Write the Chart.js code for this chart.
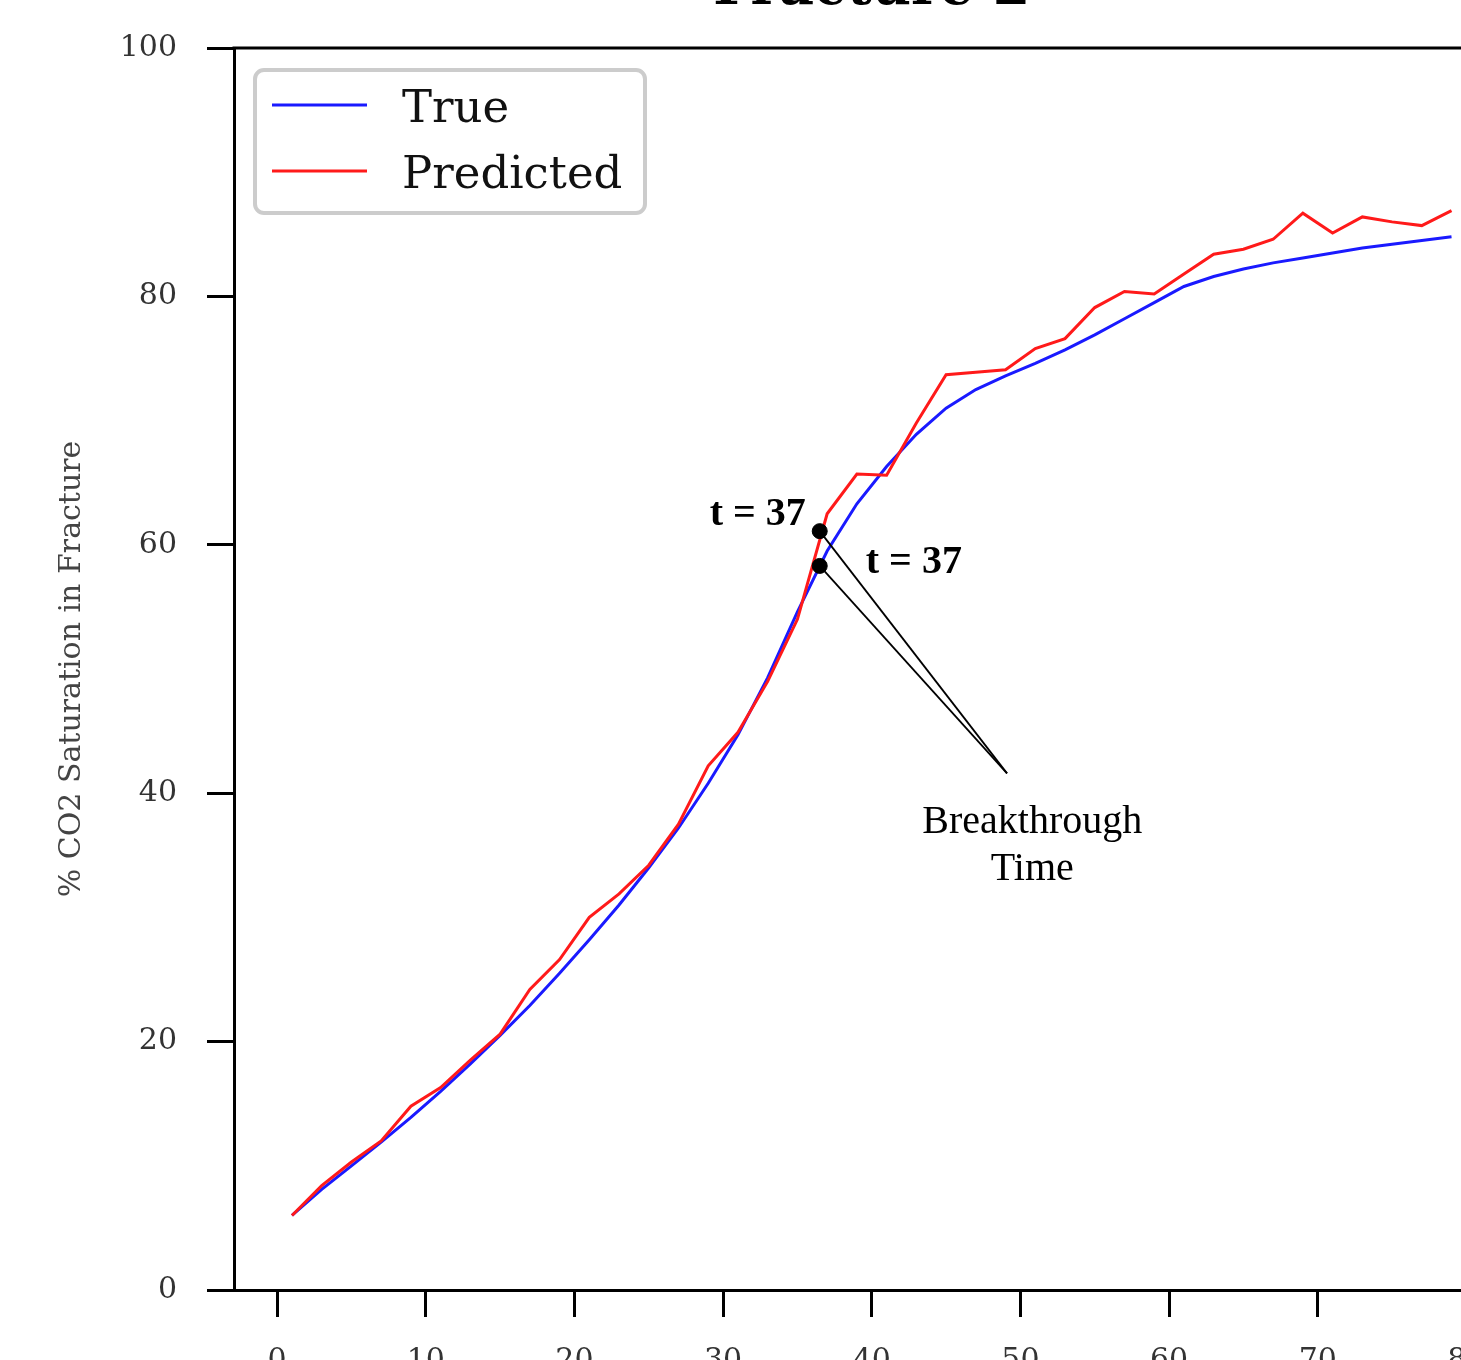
<!DOCTYPE html>
<html>
<head>
<meta charset="utf-8">
<script src="https://cdn.jsdelivr.net/npm/chart.js@4.4.0/dist/chart.umd.min.js"></script>
<style>
  html, body { margin: 0; padding: 0; background: #fff; overflow: hidden; width: 1461px; height: 1360px; }
  #wrap { position: absolute; left: 0; top: -60px; width: 1518px; height: 1420px; }
</style>
</head>
<body>
<div id="wrap"><canvas id="myChart"></canvas></div>
<script>
// data
const chartTitle = 'Fracture 2';
const yTitle = '% CO2 Saturation in Fracture';
const timeSteps = [1, 3, 5, 7, 9, 11, 13, 15, 17, 19, 21, 23, 25, 27, 29, 31, 33, 35, 37, 39,
                   41, 43, 45, 47, 49, 51, 53, 55, 57, 59, 61, 63, 65, 67, 69, 71, 73, 75, 77, 79];
const trueValues = [6.0, 8.1, 10.0, 11.9, 13.9, 16.0, 18.2, 20.5, 22.9, 25.5, 28.2, 31.0, 34.0, 37.2, 40.8, 44.7, 49.3, 54.6, 59.5, 63.3,
                    66.3, 68.9, 71.0, 72.5, 73.6, 74.6, 75.7, 76.9, 78.2, 79.5, 80.8, 81.6, 82.2, 82.7, 83.1, 83.5, 83.9, 84.2, 84.5, 84.8];
const predictedValues = [6.0, 8.4, 10.3, 12.0, 14.8, 16.3, 18.5, 20.6, 24.2, 26.6, 30.0, 31.9, 34.2, 37.5, 42.2, 44.9, 49.0, 54.0, 62.5, 65.7,
                         65.6, 69.8, 73.7, 73.9, 74.1, 75.8, 76.6, 79.1, 80.4, 80.2, 81.8, 83.4, 83.8, 84.6, 86.7, 85.1, 86.4, 86.0, 85.7, 86.9];
const yTicks = [0, 20, 40, 60, 80, 100];
const xTicks = [0, 10, 20, 30, 40, 50, 60, 70, 80];

// breakthrough markers (predicted, true)
const breakthroughX = [36.5, 36.5];
const breakthroughY = [61.1, 58.3];
const breakthroughText = ['t = 37', 't = 37'];
const breakthroughTextX = [29.1, 39.6];
const breakthroughTextY = [61.6, 57.7];
const arrowFrom = [49.1, 41.6];
const noteLines = ['Breakthrough', 'Time'];
const noteX = 50.8;
const noteY = [36.8, 33.0];

const legendLabels = ['True', 'Predicted'];

function toPoints(xs, ys){
    return xs.map((x, i) => ({x: x, y: ys[i]}));
}

const serif = '"DejaVu Serif", serif';
const times = '"Liberation Serif", "Times New Roman", serif';

const overlayPlugin = {
    id: 'overlay',
    afterDraw(chart){
        const ctx = chart.ctx;
        const area = chart.chartArea;
        const xs = chart.scales.x, ys = chart.scales.y;
        ctx.save();

        // top spine
        ctx.strokeStyle = '#000';
        ctx.lineWidth = 3;
        ctx.beginPath();
        ctx.moveTo(area.left - 1.5, area.top);
        ctx.lineTo(area.right, area.top);
        ctx.stroke();

        // title
        ctx.fillStyle = '#000';
        ctx.font = 'bold 54px ' + serif;
        ctx.textAlign = 'center';
        ctx.textBaseline = 'alphabetic';
        ctx.fillText(chartTitle, (area.left + area.right) / 2, area.top - 44);

        // arrows to breakthrough points
        ctx.strokeStyle = '#000';
        ctx.lineWidth = 1.8;
        const ax = xs.getPixelForValue(arrowFrom[0]);
        const ay = ys.getPixelForValue(arrowFrom[1]);
        breakthroughX.forEach((bx, i) => {
            ctx.beginPath();
            ctx.moveTo(ax, ay);
            ctx.lineTo(xs.getPixelForValue(bx), ys.getPixelForValue(breakthroughY[i]));
            ctx.stroke();
        });

        // labels
        ctx.fillStyle = '#000';
        ctx.font = 'bold 40px ' + times;
        ctx.textAlign = 'left';
        breakthroughText.forEach((t, i) => {
            ctx.fillText(t, xs.getPixelForValue(breakthroughTextX[i]), ys.getPixelForValue(breakthroughTextY[i]));
        });
        ctx.font = '40px ' + times;
        ctx.textAlign = 'center';
        noteLines.forEach((t, i) => {
            ctx.fillText(t, xs.getPixelForValue(noteX), ys.getPixelForValue(noteY[i]));
        });

        // legend
        const lx = area.left + 21, ly = area.top + 22;
        ctx.fillStyle = '#fff';
        ctx.strokeStyle = '#cccccc';
        ctx.lineWidth = 4;
        ctx.beginPath();
        ctx.roundRect(lx, ly, 390, 143, 9);
        ctx.fill();
        ctx.stroke();
        ctx.font = '45px ' + serif;
        ctx.textAlign = 'left';
        legendLabels.forEach((label, i) => {
            const ds = chart.data.datasets.find(d => d.label === label);
            const rowY = ly + 35 + i * 66;
            ctx.strokeStyle = ds.borderColor;
            ctx.lineWidth = 3;
            ctx.beginPath();
            ctx.moveTo(lx + 17, rowY);
            ctx.lineTo(lx + 112, rowY);
            ctx.stroke();
            ctx.fillStyle = '#111';
            ctx.fillText(label, lx + 147, rowY + 17);
        });

        ctx.restore();
    }
};

const ctx = document.getElementById('myChart').getContext('2d');
const myChart = new Chart(ctx, {
    type: 'line',
    data: {
        datasets: [
            {
                type: 'scatter',
                label: 'breakthrough',
                data: toPoints(breakthroughX, breakthroughY),
                backgroundColor: '#000',
                borderColor: '#000',
                pointRadius: 7.5,
                order: 0
            },
            {
                label: 'True',
                data: toPoints(timeSteps, trueValues),
                borderColor: '#1a1aff',
                borderWidth: 3,
                pointRadius: 0,
                tension: 0,
                order: 2
            },
            {
                label: 'Predicted',
                data: toPoints(timeSteps, predictedValues),
                borderColor: '#ff1a1a',
                borderWidth: 3,
                pointRadius: 0,
                tension: 0,
                order: 1
            }
        ]
    },
    options: {
        responsive: true,
        maintainAspectRatio: false,
        animation: false,
        layout: { padding: { top: 108, left: 0, right: 0, bottom: 0 } },
        plugins: {
            legend: { display: false },
            tooltip: { enabled: false }
        },
        scales: {
            x: {
                type: 'linear',
                min: -2.9,
                max: 82.9,
                afterFit(scale){ scale.height = 70; },
                afterBuildTicks(scale){ scale.ticks = xTicks.map(v => ({value: v})); },
                ticks: {
                    includeBounds: false,
                    font: { family: serif, size: 30 },
                    color: '#333',
                    padding: 26,
                    maxRotation: 0
                },
                grid: { drawOnChartArea: false, tickLength: 27, tickWidth: 3, tickColor: '#000' },
                border: { color: '#000', width: 3 }
            },
            y: {
                min: 0,
                max: 100,
                afterFit(scale){ scale.width = 234; },
                afterBuildTicks(scale){ scale.ticks = yTicks.map(v => ({value: v})); },
                ticks: {
                    font: { family: serif, size: 30 },
                    color: '#333',
                    padding: 30
                },
                grid: { drawOnChartArea: false, tickLength: 27, tickWidth: 3, tickColor: '#000' },
                border: { color: '#000', width: 3 },
                title: {
                    display: true,
                    text: yTitle,
                    font: { family: serif, size: 30 },
                    color: '#444',
                    padding: { top: 54 }
                }
            }
        }
    },
    plugins: [overlayPlugin]
});
</script>
</body>
</html>
